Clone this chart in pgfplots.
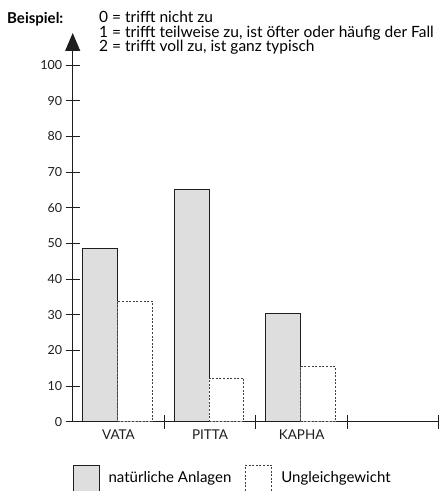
\documentclass[border=0pt]{standalone}
\usepackage{fontspec}
\setmainfont{Lato}
\usepackage{pgfplots}
\pgfplotsset{compat=1.18}
\usetikzlibrary{arrows.meta}
\definecolor{barfill}{HTML}{DEDEDE}
\definecolor{ink}{HTML}{1E1E1E}
\begin{document}
\begin{tikzpicture}
\begin{axis}[
  name=ax,
  ybar, bar width=0.38,
  scale only axis, width=366.3pt, height=388.7pt,
  xmin=0.5, xmax=4.5, ymin=0, ymax=109,
  axis x line*=bottom, axis y line*=left,
  xtick pos=bottom, ytick pos=left,
  xticklabel pos=bottom, yticklabel pos=left,
  axis line style={ink, line width=1.1pt},
  x axis line style={-},
  y axis line style={-{Triangle[length=18pt,width=15pt]}},
  ytick={0,10,...,100},
  xtick={1.5,2.5,3.5,4.5}, xticklabels={},
  extra x ticks={1,2,3},
  extra x tick labels={VATA,PITTA,KAPHA},
  extra x tick style={major tick length=0pt, tick style={draw=none}},
  tick align=center,
  major tick length=14pt,
  tick style={ink, line width=1pt},
  yticklabel style={font=\fontsize{12.5}{14}\selectfont, text=ink},
  xticklabel style={font=\fontsize{13.5}{15}\selectfont, text=ink, yshift=-5pt},
  /pgf/number format/assume math mode=true,
  clip=false,
  legend columns=2,
  legend image code/.code={\draw[#1,/tikz/.cd] (0pt,-13pt) rectangle (26pt,13pt);},
  legend style={draw=none, fill=none, inner sep=0pt, outer sep=0pt,
    at={(0,-0.145)}, anchor=west,
    font=\fontsize{15}{17}\selectfont,
    nodes={inner sep=0pt},
    /tikz/every odd column/.append style={column sep=9pt},
    /tikz/every even column/.append style={column sep=14pt}},
]
\addplot[bar shift=-0.2, fill=barfill, draw=ink, line width=0.9pt] coordinates {(1,48.7) (2,65) (3,30.3)};
\addplot[bar shift=0.18, fill=white, draw=ink!85, line width=0.9pt, dash pattern=on 2pt off 1.6pt] coordinates {(1,33.8) (2,12.2) (3,15.4)};
\legend{natürliche Anlagen, Ungleichgewicht}
\end{axis}
\node[anchor=base west,inner sep=0pt,font=\bfseries\fontsize{15}{17}\selectfont] at (-65.7pt,397.7pt) {Beispiel:};
\node[anchor=base west,inner sep=0pt,font=\fontsize{15.5}{17}\selectfont] at (-71.7pt+98pt,398.7pt) {0 = trifft nicht zu};
\node[anchor=base west,inner sep=0pt,font=\fontsize{15.5}{17}\selectfont] at (-71.7pt+98pt,384pt) {1 = trifft teilweise zu, ist öfter oder häufig der Fall};
\node[anchor=base west,inner sep=0pt,font=\fontsize{15.5}{17}\selectfont] at (-71.7pt+98pt,370pt) {2 = trifft voll zu, ist ganz typisch};
\pgfresetboundingbox
\path[use as bounding box] (-72.7pt,-69.3pt) rectangle (368.3pt,421.7pt);
\end{tikzpicture}
\end{document}
